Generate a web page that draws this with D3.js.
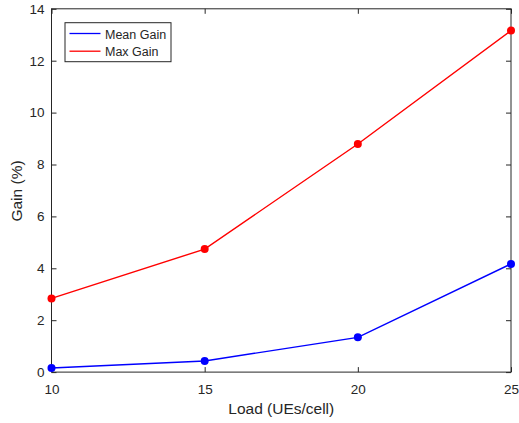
<!DOCTYPE html>
<html><head><meta charset="utf-8">
<script src="https://cdn.jsdelivr.net/npm/d3@7"></script>
<style>body{margin:0;background:#fff}svg{display:block}text{font-family:"Liberation Sans",Arial,sans-serif;fill:#262626}</style>
</head><body><svg id="c" width="519" height="423"></svg>
<script>
const loads = [10, 15, 20, 25];
const meanGain = [0.16, 0.43, 1.34, 4.17];
const maxGain = [2.84, 4.74, 8.79, 13.16];
const xTicks = [10, 15, 20, 25];
const yTicks = [0, 2, 4, 6, 8, 10, 12, 14];
const seriesNames = ["Mean Gain", "Max Gain"];
const colors = ["#0000ff", "#ff0000"];

const svg = d3.select("#c");
const L = 51.5, R = 511, T = 8.8, B = 372.1;
const x = d3.scaleLinear().domain([10, 25]).range([L, R]);
const y = d3.scaleLinear().domain([0, 14]).range([B, T]);
const axCol = "#262626";

// box
svg.append("rect").attr("x", L).attr("y", T).attr("width", R - L).attr("height", B - T)
  .attr("fill", "none").attr("stroke", axCol).attr("stroke-width", 1);

const gx = svg.append("g").attr("transform", `translate(0,${B})`)
  .call(d3.axisBottom(x).tickValues(xTicks).tickSize(-5).tickPadding(12).tickFormat(d3.format("d")));
const gxt = svg.append("g").attr("transform", `translate(0,${T})`)
  .call(d3.axisTop(x).tickValues(xTicks).tickSize(-5).tickFormat(""));
const gy = svg.append("g").attr("transform", `translate(${L},0)`)
  .call(d3.axisLeft(y).tickValues(yTicks).tickSize(-5).tickPadding(7).tickFormat(d3.format("d")));
const gyr = svg.append("g").attr("transform", `translate(${R},0)`)
  .call(d3.axisRight(y).tickValues(yTicks).tickSize(-5).tickFormat(""));
[gx, gxt, gy, gyr].forEach(g => {
  g.select(".domain").remove();
  g.selectAll(".tick line").attr("stroke", axCol);
  g.selectAll("text").attr("font-size", 13.5).attr("fill", axCol).attr("font-family", '"Liberation Sans",Arial,sans-serif');
});

// labels
svg.append("text").attr("x", (L + R) / 2).attr("y", 414).attr("text-anchor", "middle")
  .attr("font-size", 15.5).text("Load (UEs/cell)");
svg.append("text").attr("transform", `translate(21.5,191) rotate(-90)`).attr("text-anchor", "middle")
  .attr("font-size", 15.5).text("Gain (%)");

// series
const data = [meanGain, maxGain];
const line = d3.line().x((d, i) => x(loads[i])).y(d => y(d));
data.forEach((s, k) => {
  svg.append("path").datum(s).attr("d", line).attr("fill", "none")
    .attr("stroke", colors[k]).attr("stroke-width", 1.4);
  svg.selectAll(null).data(s).enter().append("circle")
    .attr("cx", (d, i) => x(loads[i])).attr("cy", d => y(d)).attr("r", 4).attr("fill", colors[k]);
});

// legend
const lg = svg.append("g");
lg.append("rect").attr("x", 65).attr("y", 22.7).attr("width", 106).attr("height", 39)
  .attr("fill", "#fff").attr("stroke", axCol).attr("stroke-width", 1);
seriesNames.forEach((n, k) => {
  const yy = 33.5 + k * 17.7;
  lg.append("line").attr("x1", 69.5).attr("x2", 100.5).attr("y1", yy).attr("y2", yy)
    .attr("stroke", colors[k]).attr("stroke-width", 1.3);
  lg.append("text").attr("x", 105).attr("y", yy + 5).attr("font-size", 12.5).attr("fill", "#000").text(n);
});
</script></body></html>
